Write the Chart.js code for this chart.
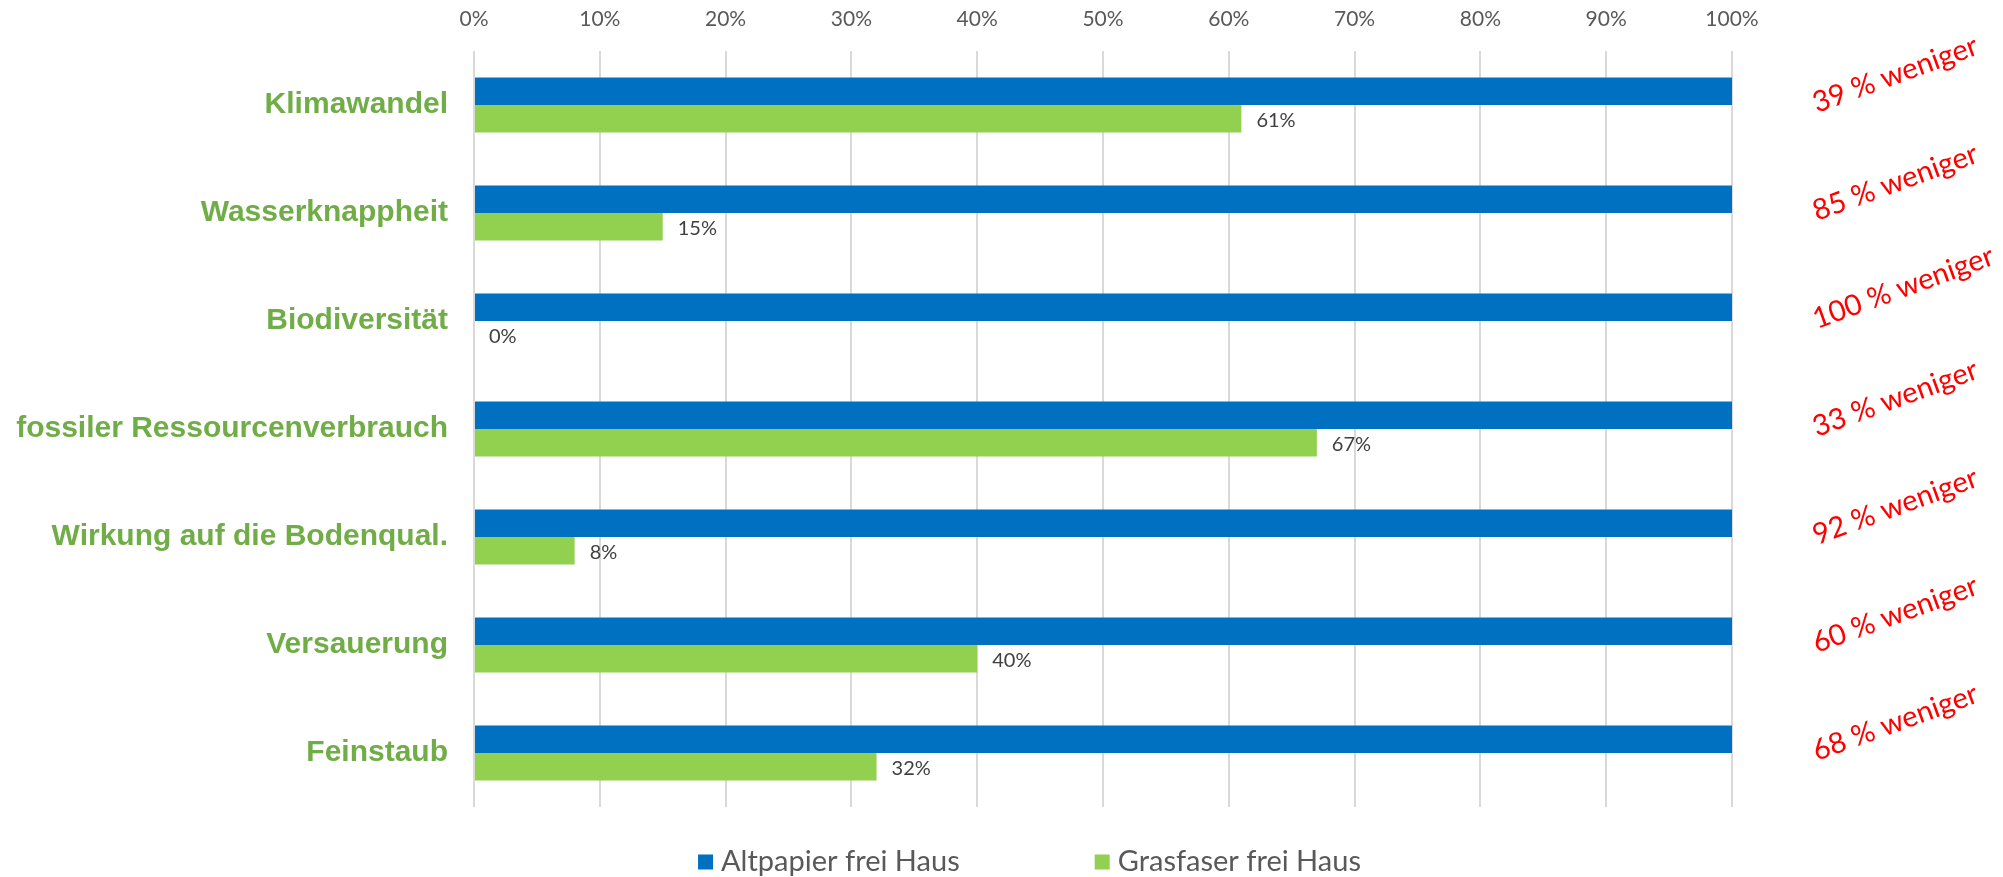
<!DOCTYPE html>
<html lang="de">
<head>
<meta charset="utf-8">
<title>Altpapier vs. Grasfaser</title>
<script src="https://cdn.jsdelivr.net/npm/chart.js@4/dist/chart.umd.min.js"></script>
<style>
  html, body { margin: 0; padding: 0; background: #fff; }
  #wrap { position: relative; width: 2003px; height: 877px; }
</style>
</head>
<body>
<div id="wrap"><canvas id="chart-canvas"></canvas></div>
<script>
'use strict';

// ── Data ──
const CATEGORIES = [
  'Klimawandel',
  'Wasserknappheit',
  'Biodiversität',
  'fossiler Ressourcenverbrauch',
  'Wirkung auf die Bodenqual.',
  'Versauerung',
  'Feinstaub',
];
const ALTPAPIER  = [100, 100, 100, 100, 100, 100, 100];
const GRASFASER  = [61, 15, 0, 67, 8, 40, 32];
const SAVINGS    = [39, 85, 100, 33, 92, 60, 68];
const X_TICKS    = [0, 10, 20, 30, 40, 50, 60, 70, 80, 90, 100];
const SERIES     = ['Altpapier frei Haus', 'Grasfaser frei Haus'];

// ── Colours / fonts ──
const BLUE  = '#0070c0';
const GREEN = '#92d050';
const LABEL_GREEN = '#70ad47';
const GREY  = '#595959';
const SANS  = 'Lato, "Open Sans", sans-serif';

// ── Overlay: value labels, red notes, legend ──
const overlay = {
  id: 'overlay',
  afterDatasetsDraw(chart) {
    const { ctx, chartArea, scales } = chart;
    ctx.save();

    // value labels at the end of green bars
    ctx.font = `20px ${SANS}`;
    ctx.fillStyle = '#404040';
    ctx.textAlign = 'left';
    ctx.textBaseline = 'middle';
    chart.getDatasetMeta(1).data.forEach((bar, i) => {
      ctx.fillText(GRASFASER[i] + '%', bar.x + 15, bar.y + 2);
    });

    // red rotated notes on the right
    ctx.font = `29px ${SANS}`;
    ctx.fillStyle = '#ff0000';
    ctx.textBaseline = 'alphabetic';
    SAVINGS.forEach((v, i) => {
      const y = scales.y.getPixelForValue(i) + 8;
      ctx.save();
      ctx.translate(chartArea.right + 85, y);
      ctx.rotate(-20 * Math.PI / 180);
      ctx.fillText(`${v} % weniger`, 0, 0);
      ctx.restore();
    });

    // legend at the bottom
    ctx.font = `29px ${SANS}`;
    ctx.fillStyle = GREY;
    const box = 15, gapText = 8, gapItem = 135;
    const widths = SERIES.map(t => box + gapText + ctx.measureText(t).width);
    const total = widths[0] + gapItem + widths[1];
    let x = chart.width / 2 + 28 - total / 2;
    const ly = 862;
    [BLUE, GREEN].forEach((c, i) => {
      ctx.fillStyle = c;
      ctx.fillRect(x, ly - box / 2, box, box);
      ctx.fillStyle = GREY;
      ctx.textBaseline = 'middle';
      ctx.fillText(SERIES[i], x + box + gapText, ly);
      x += widths[i] + gapItem;
    });

    ctx.restore();
  },
};

// ── Chart ──
const ctx = document.getElementById('chart-canvas').getContext('2d');
new Chart(ctx, {
  type: 'bar',
  data: {
    labels: CATEGORIES,
    datasets: [
      { label: SERIES[0], data: ALTPAPIER, backgroundColor: BLUE },
      { label: SERIES[1], data: GRASFASER, backgroundColor: GREEN },
    ],
  },
  options: {
    indexAxis: 'y',
    animation: false,
    responsive: true,
    maintainAspectRatio: false,
    devicePixelRatio: 1,
    categoryPercentage: 0.51,
    barPercentage: 1,
    layout: { padding: { left: 0, right: 271, top: 0, bottom: 70 } },
    plugins: { legend: { display: false }, tooltip: { enabled: false } },
    scales: {
      x: {
        position: 'top',
        min: 0,
        max: 100,
        afterBuildTicks: s => { s.ticks = X_TICKS.map(v => ({ value: v })); },
        afterFit: s => { s.height = 51; },
        grid: { color: '#d9d9d9', lineWidth: 2, drawTicks: false },
        border: { display: false },
        ticks: {
          padding: 19,
          color: GREY,
          font: { family: SANS, size: 21 },
          callback: v => v + '%',
        },
      },
      y: {
        afterFit: s => { s.width = 474; },
        grid: { display: false },
        border: { display: false },
        ticks: {
          padding: 18,
          color: LABEL_GREEN,
          font: { family: '"Liberation Sans", Arial, sans-serif', size: 30, weight: 'bold' },
        },
      },
    },
  },
  plugins: [overlay],
});
</script>
</body>
</html>
